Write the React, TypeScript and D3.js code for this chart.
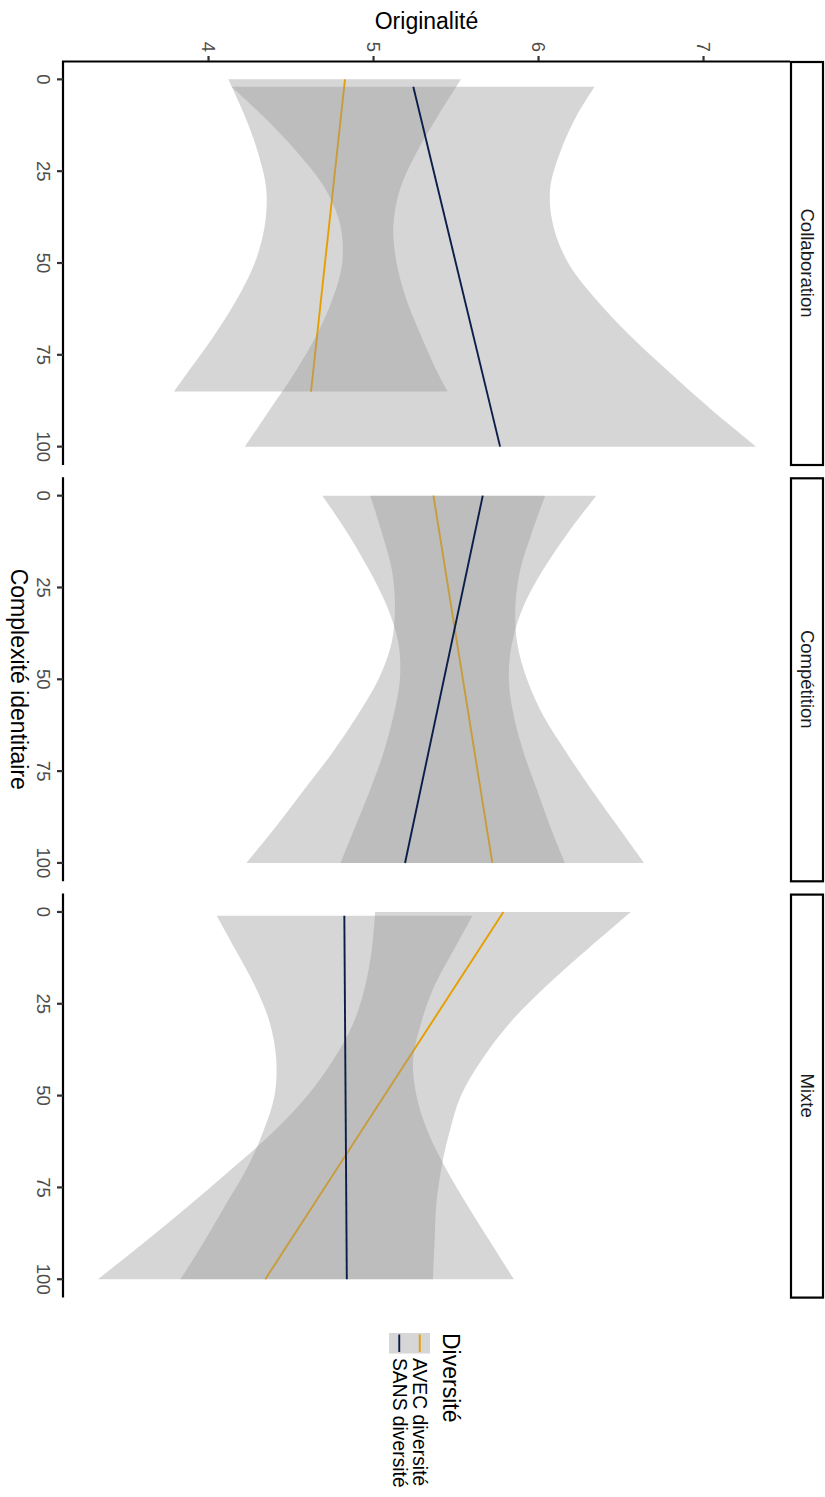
import React from "react";
import * as d3 from "d3";

// ---------- data ----------
const facets = ["Collaboration", "Compétition", "Mixte"];
const groups = ["AVEC diversité", "SANS diversité"];
const groupColors = ["#E69F00", "#0C1D4A"];
const originaliteTicks = [4, 5, 6, 7];
const complexiteTicks = [0, 25, 50, 75, 100];

// Collaboration
const collabAvecC = [0, 10, 20, 30, 40, 50, 60, 70, 80, 85];
const collabAvecFit = [4.827, 4.80, 4.78, 4.75, 4.73, 4.71, 4.68, 4.66, 4.63, 4.621];
const collabAvecLo = [4.12, 4.22, 4.30, 4.35, 4.34, 4.28, 4.17, 4.03, 3.87, 3.79];
const collabAvecHi = [5.53, 5.39, 5.26, 5.16, 5.12, 5.14, 5.20, 5.29, 5.39, 5.45];

const collabSansC = [2, 10, 20, 30, 40, 50, 60, 70, 80, 90, 100];
const collabSansFit = [5.241, 5.28, 5.34, 5.39, 5.45, 5.50, 5.55, 5.61, 5.66, 5.71, 5.767];
const collabSansLo = [4.14, 4.33, 4.54, 4.71, 4.80, 4.81, 4.75, 4.65, 4.52, 4.37, 4.22];
const collabSansHi = [6.34, 6.23, 6.13, 6.07, 6.09, 6.18, 6.35, 6.56, 6.80, 7.05, 7.32];

// Compétition
const compAvecC = [0, 10, 20, 30, 40, 50, 60, 70, 80, 90, 100];
const compAvecFit = [5.363, 5.40, 5.43, 5.47, 5.51, 5.54, 5.58, 5.61, 5.65, 5.68, 5.720];
const compAvecLo = [4.69, 4.84, 4.97, 5.08, 5.15, 5.16, 5.12, 5.06, 4.98, 4.89, 4.80];
const compAvecHi = [6.04, 5.96, 5.89, 5.86, 5.87, 5.93, 6.03, 6.17, 6.32, 6.48, 6.64];

const compSansC = [0, 10, 20, 30, 40, 50, 60, 70, 80, 90, 100];
const compSansFit = [5.662, 5.62, 5.57, 5.52, 5.47, 5.43, 5.38, 5.33, 5.29, 5.24, 5.191];
const compSansLo = [4.98, 5.05, 5.11, 5.13, 5.11, 5.03, 4.90, 4.75, 4.58, 4.41, 4.23];
const compSansHi = [6.35, 6.18, 6.03, 5.91, 5.84, 5.82, 5.85, 5.91, 5.99, 6.07, 6.16];

// Mixte
const mixteAvecC = [0, 10, 20, 30, 40, 50, 60, 70, 80, 90, 100];
const mixteAvecFit = [5.787, 5.64, 5.50, 5.35, 5.21, 5.07, 4.92, 4.78, 4.63, 4.49, 4.344];
const mixteAvecLo = [5.01, 4.99, 4.95, 4.88, 4.76, 4.60, 4.39, 4.14, 3.88, 3.61, 3.33];
const mixteAvecHi = [6.56, 6.30, 6.05, 5.83, 5.66, 5.53, 5.46, 5.41, 5.38, 5.37, 5.36];

const mixteSansC = [1, 10, 20, 30, 40, 50, 60, 70, 80, 90, 100];
const mixteSansFit = [4.823, 4.82, 4.83, 4.83, 4.83, 4.83, 4.83, 4.83, 4.84, 4.84, 4.838];
const mixteSansLo = [4.05, 4.16, 4.28, 4.37, 4.41, 4.40, 4.33, 4.23, 4.10, 3.97, 3.83];
const mixteSansHi = [5.60, 5.49, 5.37, 5.29, 5.24, 5.26, 5.33, 5.44, 5.57, 5.71, 5.85];

type Series = { c: number[]; fit: number[]; lo: number[]; hi: number[] };
const panelData: Series[][] = [
  [
    { c: collabAvecC, fit: collabAvecFit, lo: collabAvecLo, hi: collabAvecHi },
    { c: collabSansC, fit: collabSansFit, lo: collabSansLo, hi: collabSansHi },
  ],
  [
    { c: compAvecC, fit: compAvecFit, lo: compAvecLo, hi: compAvecHi },
    { c: compSansC, fit: compSansFit, lo: compSansLo, hi: compSansHi },
  ],
  [
    { c: mixteAvecC, fit: mixteAvecFit, lo: mixteAvecLo, hi: mixteAvecHi },
    { c: mixteSansC, fit: mixteSansFit, lo: mixteSansLo, hi: mixteSansHi },
  ],
];

// ---------- layout ----------
const W = 825;
const H = 1497;
const FONT = "'Liberation Sans', Arial, Helvetica, sans-serif";
const panelLeft = 63;
const panelRight = 790;
const panelTop0 = 61;
const panelH = 404;
const panelGap = 12.3;
const lineW = 2.2;

export default function App() {
  const x = d3.scaleLinear().domain([3.118, 7.524]).range([panelLeft, panelRight]);
  const panelTop = (i: number) => panelTop0 + i * (panelH + panelGap);

  return (
    <svg
      width={W}
      height={H}
      style={{ position: "absolute", left: 0, top: 0, background: "#fff" }}
      fontFamily={FONT}
    >
      <rect x={0} y={0} width={W} height={H} fill="#fff" />
      {/* Y title (top) */}
      <text x={(panelLeft + panelRight) / 2} y={29} textAnchor="middle" fontSize={23} fill="#000">
        Originalité
      </text>
      {/* top axis */}
      <line x1={panelLeft - 1} x2={panelRight} y1={panelTop0 + 0.5} y2={panelTop0 + 0.5} stroke="#000" strokeWidth={lineW} />
      {originaliteTicks.map((t) => (
        <g key={"yt" + t}>
          <line x1={x(t)} x2={x(t)} y1={panelTop0 - 5} y2={panelTop0} stroke="#333" strokeWidth={lineW} />
          <text
            transform={`translate(${x(t)},${panelTop0 - 9}) rotate(90)`}
            textAnchor="end"
            dominantBaseline="central"
            fontSize={18.5}
            fill="#4d4d4d"
          >
            {t}
          </text>
        </g>
      ))}
      {/* X title (left) */}
      <text
        transform={`translate(11,${(panelTop(0) + panelTop(2) + panelH) / 2}) rotate(90)`}
        textAnchor="middle"
        fontSize={23}
        fill="#000"
      >
        Complexité identitaire
      </text>

      {facets.map((f, i) => {
        const top = panelTop(i);
        const y = d3.scaleLinear().domain([-5, 105]).range([top, top + panelH]);
        return (
          <g key={f}>
            {panelData[i].map((s, gi) => {
              const idx = s.c.map((_, k) => k);
              const ar = d3
                .area<number>()
                .y((k) => y(s.c[k]))
                .x0((k) => x(s.lo[k]))
                .x1((k) => x(s.hi[k]))
                .curve(d3.curveCatmullRom);
              // linear fit: a straight segment between its end points
              const ends = [0, s.c.length - 1];
              const ln = d3
                .line<number>()
                .y((k) => y(s.c[k]))
                .x((k) => x(s.fit[k]));
              return (
                <g key={gi}>
                  <path d={ar(idx) || ""} fill="#999999" fillOpacity={0.4} />
                  <path d={ln(ends) || ""} fill="none" stroke={groupColors[gi]} strokeWidth={1.9} />
                </g>
              );
            })}
            {/* left axis */}
            <line x1={panelLeft} x2={panelLeft} y1={top} y2={top + panelH} stroke="#000" strokeWidth={lineW} />
            {complexiteTicks.map((t) => (
              <g key={"xt" + t}>
                <line x1={panelLeft - 6} x2={panelLeft} y1={y(t)} y2={y(t)} stroke="#333" strokeWidth={lineW} />
                <text
                  transform={`translate(37,${y(t)}) rotate(90)`}
                  textAnchor="middle"
                  fontSize={18.5}
                  fill="#4d4d4d"
                >
                  {t}
                </text>
              </g>
            ))}
            {/* strip */}
            <rect x={791} y={top + 1} width={32} height={panelH - 1} fill="#fff" stroke="#000" strokeWidth={lineW} />
            <text
              transform={`translate(807,${top + panelH / 2}) rotate(90)`}
              textAnchor="middle"
              dominantBaseline="central"
              fontSize={18.5}
              fill="#1a1a1a"
            >
              {f}
            </text>
          </g>
        );
      })}

      {/* legend */}
      <text transform={`translate(443,1333) rotate(90)`} fontSize={23} fill="#000">
        Diversité
      </text>
      {groups.map((g, gi) => {
        const kx = 430 - (gi + 1) * 20.5;
        return (
          <g key={g}>
            <rect x={kx} y={1333} width={20.5} height={20.5} fill="#999999" fillOpacity={0.4} />
            <line x1={kx + 10.25} x2={kx + 10.25} y1={1334.5} y2={1352} stroke={groupColors[gi]} strokeWidth={1.9} />
            <text
              transform={`translate(${kx + 10.25},1358) rotate(90)`}
              dominantBaseline="central"
              fontSize={19.3}
              fill="#000"
            >
              {g}
            </text>
          </g>
        );
      })}
    </svg>
  );
}
